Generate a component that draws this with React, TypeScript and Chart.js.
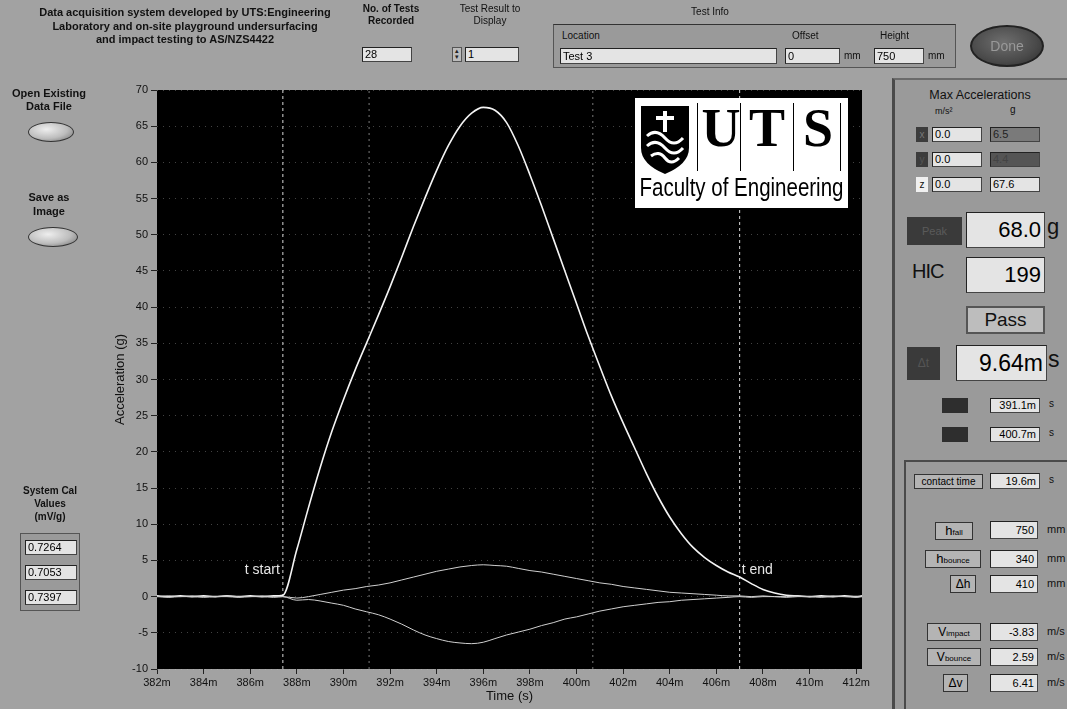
import React, { useEffect, useRef } from "react";
import { Chart, registerables } from "chart.js";

Chart.register(...registerables);

// ---- data (time in ms, acceleration in g) ----
const timeMs = [
  382, 382.5, 383, 383.5, 384, 384.5, 385, 385.5, 386, 386.5, 387, 387.4,
  388, 388.5, 389, 389.5, 390, 390.5, 391, 391.5, 392, 392.5,
  393, 393.5, 394, 394.5, 395, 395.5, 396, 396.5, 397, 397.5,
  398, 398.5, 399, 399.5, 400, 400.5, 401, 401.5, 402, 402.5,
  403, 403.5, 404, 404.5, 405, 405.5, 406, 406.5, 407, 407.5,
  408, 408.5, 409, 409.5, 410, 410.5, 411, 411.5, 412, 412.25,
];
const accelZ = [
  0.1, 0.0, 0.1, 0.0, 0.1, 0.0, 0.1, 0.0, 0.1, 0.0, 0.1, 0.2,
  6.5, 12.3, 17.8, 22.8, 27.2, 31.3, 35.1, 38.9, 42.8, 46.9,
  51.1, 55.1, 58.9, 62.3, 65.0, 66.8, 67.6, 67.2, 65.5, 62.3,
  58.3, 54.0, 49.5, 45.0, 40.5, 36.0, 31.8, 27.7, 24.0, 20.5,
  17.0, 13.8, 11.0, 8.7, 6.8, 5.4, 4.3, 3.4, 2.7, 1.8,
  1.0, 0.5, 0.2, 0.1, 0.0, 0.1, 0.0, 0.1, 0.0, 0.1,
];
const accelY = [
  0.0, 0.1, 0.0, 0.1, 0.0, 0.0, 0.1, 0.0, 0.0, 0.1, 0.0, 0.0,
  -0.2, 0.0, 0.3, 0.6, 0.9, 1.1, 1.4, 1.6, 1.9, 2.3,
  2.7, 3.1, 3.5, 3.8, 4.1, 4.3, 4.4, 4.3, 4.2, 3.9,
  3.6, 3.4, 3.1, 2.8, 2.5, 2.2, 1.9, 1.7, 1.4, 1.2,
  1.0, 0.8, 0.6, 0.5, 0.4, 0.3, 0.2, 0.1, 0.1, 0.0,
  0.1, 0.0, 0.0, 0.1, 0.0, 0.0, 0.1, 0.0, 0.0, 0.0,
];
const accelX = [
  0.0, -0.1, 0.0, 0.0, -0.1, 0.0, 0.0, -0.1, 0.0, 0.0, -0.1, 0.0,
  -0.5, -0.4, -0.6, -0.9, -1.2, -1.7, -2.1, -2.5, -3.1, -3.8,
  -4.6, -5.3, -5.8, -6.2, -6.4, -6.5, -6.3, -5.8, -5.3, -4.9,
  -4.5, -4.0, -3.6, -3.1, -2.8, -2.4, -2.0, -1.7, -1.4, -1.2,
  -1.0, -0.8, -0.7, -0.5, -0.4, -0.3, -0.2, -0.1, 0.0, -0.1,
  0.0, 0.0, -0.1, 0.0, 0.0, -0.1, 0.0, 0.0, -0.1, 0.0,
];

// vertical markers: t start, HIC t1, HIC t2, t end
const markerTimes = [387.4, 391.1, 400.7, 407.0];
const markerLabels = ["t start", "", "", "t end"];
const markerSides = ["left", "", "", "right"];
const markerBright = [true, false, false, true];
const markerLabelValue = 3.7;

const xMin = 382;
const xMax = 412.25;
const xStep = 2;
const yMin = -10;
const yMax = 70;
const yStep = 5;

const FONT = '"Liberation Sans", Arial, sans-serif';

const plotBgPlugin = {
  id: "plotBg",
  beforeDraw(chart: any) {
    const { ctx, chartArea } = chart;
    ctx.save();
    ctx.fillStyle = "#000";
    ctx.fillRect(chartArea.left, chartArea.top, chartArea.width, chartArea.height);
    ctx.restore();
  },
};

const markerLabelPlugin = {
  id: "markerLabels",
  afterDatasetsDraw(chart: any) {
    const { ctx } = chart;
    const xs = chart.scales.x;
    const ys = chart.scales.y;
    ctx.save();
    ctx.font = `14px ${FONT}`;
    ctx.fillStyle = "#e6e6e6";
    ctx.textBaseline = "middle";
    markerTimes.forEach((t, i) => {
      const label = markerLabels[i];
      if (!label) return;
      const px = xs.getPixelForValue(t);
      const py = ys.getPixelForValue(markerLabelValue);
      if (markerSides[i] === "left") {
        ctx.textAlign = "right";
        ctx.fillText(label, px - 3, py);
      } else {
        ctx.textAlign = "left";
        ctx.fillText(label, px + 2, py);
      }
    });
    ctx.restore();
  },
};

function ChartCanvas() {
  const ref = useRef<HTMLCanvasElement | null>(null);
  useEffect(() => {
    if (!ref.current) return;
    const curve = (label: string, vals: number[], color: string, width: number) => ({
      label,
      data: timeMs.map((t, i) => ({ x: t, y: vals[i] })),
      borderColor: color,
      borderWidth: width,
      pointRadius: 0,
      cubicInterpolationMode: "monotone" as const,
      order: 1,
    });
    const markers = markerTimes.map((t, i) => ({
      label: markerLabels[i] || `marker${i}`,
      data: [
        { x: t, y: yMin },
        { x: t, y: yMax },
      ],
      borderColor: markerBright[i] ? "#d8d8d8" : "#7a7a7a",
      borderWidth: 1,
      borderDash: markerBright[i] ? [3, 3] : [2, 4],
      pointRadius: 0,
      order: 5,
    }));
    const chart = new Chart(ref.current, {
      type: "line",
      data: {
        datasets: [
          ...markers,
          curve("x", accelX, "#cfcfcf", 1),
          curve("y", accelY, "#cfcfcf", 1),
          curve("z", accelZ, "#f4f4f4", 1.6),
        ] as any,
      },
      options: {
        animation: false,
        responsive: false,
        devicePixelRatio: 1,
        layout: { padding: { left: 100, right: 205, top: 90, bottom: 0 } },
        plugins: { legend: { display: false }, tooltip: { enabled: false } },
        scales: {
          x: {
            type: "linear",
            min: xMin,
            max: xMax,
            afterFit: (s: any) => {
              s.height = 40;
            },
            ticks: {
              stepSize: xStep,
              includeBounds: false,
              autoSkip: false,
              maxRotation: 0,
              padding: 2,
              color: "#111",
              font: { family: FONT, size: 11 },
              callback: (v: any) => `${v}m`,
            },
            grid: { drawOnChartArea: false, drawTicks: true, tickLength: 5, tickColor: "#222" },
            border: { display: false },
            title: {
              display: true,
              text: "Time (s)",
              color: "#111",
              font: { family: FONT, size: 13 },
              padding: { top: 0, bottom: 5 },
            },
          },
          y: {
            type: "linear",
            min: yMin,
            max: yMax,
            afterFit: (s: any) => {
              s.width = 57;
            },
            ticks: {
              stepSize: yStep,
              padding: 3,
              color: "#111",
              font: { family: FONT, size: 11 },
            },
            grid: {
              drawOnChartArea: true,
              color: "rgba(190,190,190,0.35)",
              drawTicks: true,
              tickLength: 6,
              tickColor: "#222",
            },
            border: { display: false, dash: [1, 5] },
            title: {
              display: true,
              text: "Acceleration (g)",
              color: "#111",
              font: { family: FONT, size: 13 },
              padding: { top: 13, bottom: 0 },
            },
          },
        },
      },
      plugins: [plotBgPlugin, markerLabelPlugin],
    });
    return () => chart.destroy();
  }, []);
  return (
    <canvas
      ref={ref}
      width={1067}
      height={709}
      style={{ position: "absolute", left: 0, top: 0, width: 1067, height: 709 }}
    />
  );
}

const abs = (l: number, t: number, w: number, h: number, extra: any = {}) => ({
  position: "absolute" as const,
  left: l,
  top: t,
  width: w,
  height: h,
  boxSizing: "border-box" as const,
  ...extra,
});

const lbl = (size: number, bold = true, extra: any = {}) => ({
  fontFamily: FONT,
  fontSize: size,
  fontWeight: bold ? 700 : 400,
  color: "#111",
  whiteSpace: "nowrap" as const,
  ...extra,
});

function VBox(props: { l: number; t: number; w: number; h: number; text: string; size?: number; align?: string; bg?: string; color?: string }) {
  const { l, t, w, h, text, size = 11, align = "left", bg = "#e4e4e4", color = "#000" } = props;
  return (
    <div
      style={abs(l, t, w, h, {
        background: bg,
        border: "1px solid #444",
        borderTopColor: "#222",
        borderLeftColor: "#222",
        fontFamily: FONT,
        fontSize: size,
        color,
        lineHeight: `${h - 2}px`,
        textAlign: align,
        paddingLeft: 2,
        paddingRight: 3,
        overflow: "hidden",
        whiteSpace: "nowrap",
      })}
    >
      {text}
    </div>
  );
}

function Tag(props: { l: number; t: number; w: number; h: number; children: any; size?: number }) {
  const { l, t, w, h, children, size = 11 } = props;
  return (
    <div
      style={abs(l, t, w, h, {
        background: "#b4b4b4",
        border: "1px solid #333",
        fontFamily: FONT,
        fontSize: size,
        color: "#000",
        lineHeight: `${h - 2}px`,
        textAlign: "center",
        whiteSpace: "nowrap",
      })}
    >
      {children}
    </div>
  );
}

function Oval(props: { l: number; t: number; w: number; h: number }) {
  const { l, t, w, h } = props;
  return (
    <div
      style={abs(l, t, w, h, {
        borderRadius: "50%",
        background: "radial-gradient(ellipse at 40% 35%, #eeeeee 0%, #bdbdbd 55%, #6a6a6a 100%)",
        border: "1px solid #333",
      })}
    />
  );
}

function Logo() {
  return (
    <div style={abs(635, 98, 213, 110, { background: "#fff" })}>
      <svg width={48} height={68} style={{ position: "absolute", left: 6, top: 8 }} viewBox="0 0 48 68">
        <path d="M0 0 H48 V42 Q48 58 24 68 Q0 58 0 42 Z" fill="#000" />
        <path d="M24 5 V26 M15 12 H33" stroke="#fff" strokeWidth={4} />
        <path d="M6 30 Q15 22 24 32 Q33 42 42 32" stroke="#fff" strokeWidth={3} fill="none" />
        <path d="M6 40 Q15 32 24 42 Q33 52 42 42" stroke="#fff" strokeWidth={3} fill="none" />
        <path d="M10 50 Q18 44 24 52 Q30 60 38 52" stroke="#fff" strokeWidth={3} fill="none" />
      </svg>
      {[62, 105, 158, 205].map((x) => (
        <div key={x} style={abs(x, 5, 1, 68, { background: "#000" })} />
      ))}
      {["U", "T", "S"].map((c, i) => (
        <div
          key={c}
          style={abs([66, 112, 163][i], 2, 40, 56, {
            fontFamily: '"Liberation Serif", "Times New Roman", serif',
            fontWeight: 700,
            fontSize: 54,
            lineHeight: "56px",
            textAlign: "center",
            color: "#000",
          })}
        >
          {c}
        </div>
      ))}
      <div
        style={abs(-40, 74, 293, 30, {
          fontFamily: FONT,
          fontSize: 25,
          lineHeight: "30px",
          textAlign: "center",
          color: "#000",
          whiteSpace: "nowrap",
          transform: "scaleX(0.82)",
          transformOrigin: "50% 50%",
        })}
      >
        Faculty of Engineering
      </div>
    </div>
  );
}

export default function App() {
  return (
    <div
      style={{
        position: "fixed",
        left: 0,
        top: 0,
        width: 1067,
        height: 709,
        background: "#a2a2a2",
        overflow: "hidden",
      }}
    >
      <ChartCanvas />

      {/* top bar */}
      <div style={abs(15, 6, 340, 44, { ...lbl(11), textAlign: "center", lineHeight: "13.5px" })}>
        Data acquisition system developed by UTS:Engineering
        <br />
        Laboratory and on-site playground undersurfacing
        <br />
        and impact testing to AS/NZS4422
      </div>
      <div style={abs(355, 3, 72, 28, { ...lbl(10), textAlign: "center", lineHeight: "12px" })}>
        No. of Tests
        <br />
        Recorded
      </div>
      <VBox l={362} t={47} w={50} h={15} text="28" />
      <div style={abs(450, 3, 80, 28, { ...lbl(10, false), textAlign: "center", lineHeight: "12px" })}>
        Test Result to
        <br />
        Display
      </div>
      <div style={abs(452, 47, 10, 15, { background: "#bcbcbc", border: "1px solid #555", fontSize: 7, lineHeight: "6px", textAlign: "center", color: "#222" })}>
        ▴<br />▾
      </div>
      <VBox l={465} t={47} w={54} h={15} text="1" />

      <div style={abs(680, 6, 60, 14, { ...lbl(10, false), textAlign: "center" })}>Test Info</div>
      <div style={abs(553, 24, 403, 44, { border: "1px solid #555", borderTopColor: "#333", background: "#9a9a9a" })} />
      <div style={abs(562, 30, 60, 13, lbl(10, false))}>Location</div>
      <VBox l={560} t={48} w={217} h={16} text="Test 3" />
      <div style={abs(792, 30, 40, 13, lbl(10, false))}>Offset</div>
      <VBox l={785} t={48} w={55} h={16} text="0" />
      <div style={abs(844, 50, 18, 13, lbl(10, false))}>mm</div>
      <div style={abs(880, 30, 40, 13, lbl(10, false))}>Height</div>
      <VBox l={874} t={48} w={50} h={16} text="750" />
      <div style={abs(928, 50, 18, 13, lbl(10, false))}>mm</div>
      <div
        style={abs(970, 25, 74, 42, {
          borderRadius: "50%",
          background: "radial-gradient(ellipse at 45% 40%, #6e6e6e 0%, #4a4a4a 60%, #2a2a2a 100%)",
          border: "2px solid #222",
          ...lbl(14, false, { color: "#999" }),
          textAlign: "center",
          lineHeight: "38px",
        })}
      >
        Done
      </div>

      {/* left panel */}
      <div style={abs(4, 87, 90, 28, { ...lbl(11), textAlign: "center", lineHeight: "13px" })}>
        Open Existing
        <br />
        Data File
      </div>
      <Oval l={28} t={122} w={46} h={20} />
      <div style={abs(4, 190, 90, 28, { ...lbl(11), textAlign: "center", lineHeight: "14px" })}>
        Save as
        <br />
        Image
      </div>
      <Oval l={28} t={227} w={50} h={20} />

      <div style={abs(5, 484, 90, 40, { ...lbl(10), textAlign: "center", lineHeight: "13px" })}>
        System Cal
        <br />
        Values
        <br />
        (mV/g)
      </div>
      <div style={abs(20, 533, 60, 78, { border: "1px solid #555", background: "#9a9a9a" })} />
      <VBox l={25} t={540} w={52} h={15} text="0.7264" />
      <VBox l={25} t={565} w={52} h={15} text="0.7053" />
      <VBox l={25} t={590} w={52} h={15} text="0.7397" />

      {/* right panel */}
      <div style={abs(892, 78, 175, 631, { borderLeft: "3px solid #4a4a4a", borderTop: "2px solid #6a6a6a", background: "#9a9a9a" })} />
      <div style={abs(905, 88, 150, 16, { ...lbl(12.5, false), textAlign: "center" })}>Max Accelerations</div>
      <div style={abs(935, 106, 40, 12, lbl(9, false))}>m/s²</div>
      <div style={abs(1010, 104, 12, 12, lbl(10, false))}>g</div>
      <div style={abs(916, 127, 12, 15, { background: "#3c3c3c", ...lbl(10, false, { color: "#777" }), textAlign: "center", lineHeight: "15px" })}>x</div>
      <VBox l={932} t={127} w={50} h={15} text="0.0" />
      <VBox l={990} t={127} w={50} h={15} text="6.5" bg="#7a7a7a" color="#222" />
      <div style={abs(916, 152, 12, 15, { background: "#3c3c3c", ...lbl(10, false, { color: "#555" }), textAlign: "center", lineHeight: "15px" })}>y</div>
      <VBox l={932} t={152} w={50} h={15} text="0.0" />
      <VBox l={990} t={152} w={50} h={15} text="4.4" bg="#555" color="#444" />
      <div style={abs(916, 177, 12, 15, { background: "#f0f0f0", ...lbl(10, false), textAlign: "center", lineHeight: "15px" })}>z</div>
      <VBox l={932} t={177} w={50} h={15} text="0.0" />
      <VBox l={990} t={177} w={50} h={15} text="67.6" />

      <div style={abs(907, 217, 55, 28, { background: "#3a3a3a", ...lbl(11, false, { color: "#5a5a5a" }), textAlign: "center", lineHeight: "28px" })}>Peak</div>
      <VBox l={966} t={212} w={79} h={36} text="68.0" size={22} align="right" />
      <div style={abs(1047, 214, 20, 30, lbl(22, false))}>g</div>

      <div style={abs(912, 260, 50, 30, lbl(20, false, { letterSpacing: -1 }))}>HIC</div>
      <VBox l={966} t={257} w={79} h={36} text="199" size={22} align="right" />
      <div
        style={abs(966, 306, 79, 28, {
          background: "#bdbdbd",
          border: "2px solid #555",
          ...lbl(19, false),
          textAlign: "center",
          lineHeight: "24px",
        })}
      >
        Pass
      </div>

      <div style={abs(907, 347, 33, 33, { background: "#3a3a3a", ...lbl(12, false, { color: "#555" }), textAlign: "center", lineHeight: "33px" })}>Δt</div>
      <VBox l={956} t={345} w={91} h={36} text="9.64m" size={23} align="right" />
      <div style={abs(1048, 346, 20, 32, lbl(23, false))}>s</div>

      <div style={abs(942, 398, 26, 15, { background: "#2e2e2e" })} />
      <VBox l={990} t={398} w={50} h={15} text="391.1m" align="right" />
      <div style={abs(1049, 398, 10, 15, lbl(10, false))}>s</div>
      <div style={abs(942, 427, 26, 15, { background: "#2e2e2e" })} />
      <VBox l={990} t={427} w={50} h={15} text="400.7m" align="right" />
      <div style={abs(1049, 427, 10, 15, lbl(10, false))}>s</div>

      <div style={abs(904, 460, 163, 249, { borderLeft: "2px solid #4a4a4a", borderTop: "2px solid #4a4a4a" })} />
      <Tag l={914} t={474} w={69} h={15} size={10}>contact time</Tag>
      <VBox l={990} t={473} w={50} h={16} text="19.6m" align="right" />
      <div style={abs(1049, 474, 10, 15, lbl(10, false))}>s</div>

      <Tag l={935} t={522} w={38} h={18} size={13}>
        h<span style={{ fontSize: 8 }}>fall</span>
      </Tag>
      <VBox l={990} t={521} w={48} h={18} text="750" align="right" />
      <div style={abs(1047, 523, 20, 15, lbl(11, false))}>mm</div>
      <Tag l={925} t={550} w={56} h={18} size={13}>
        h<span style={{ fontSize: 8 }}>bounce</span>
      </Tag>
      <VBox l={990} t={550} w={48} h={18} text="340" align="right" />
      <div style={abs(1047, 552, 20, 15, lbl(11, false))}>mm</div>
      <Tag l={950} t={575} w={26} h={18} size={12}>Δh</Tag>
      <VBox l={990} t={575} w={48} h={18} text="410" align="right" />
      <div style={abs(1047, 577, 20, 15, lbl(11, false))}>mm</div>

      <Tag l={927} t={623} w={54} h={18} size={12}>
        V<span style={{ fontSize: 8 }}>impact</span>
      </Tag>
      <VBox l={990} t={623} w={48} h={18} text="-3.83" align="right" />
      <div style={abs(1047, 625, 20, 15, lbl(11, false))}>m/s</div>
      <Tag l={927} t={648} w={54} h={18} size={12}>
        V<span style={{ fontSize: 8 }}>bounce</span>
      </Tag>
      <VBox l={990} t={648} w={48} h={18} text="2.59" align="right" />
      <div style={abs(1047, 650, 20, 15, lbl(11, false))}>m/s</div>
      <Tag l={943} t={674} w={25} h={18} size={12}>Δv</Tag>
      <VBox l={990} t={674} w={48} h={18} text="6.41" align="right" />
      <div style={abs(1047, 676, 20, 15, lbl(11, false))}>m/s</div>

      <Logo />
    </div>
  );
}
